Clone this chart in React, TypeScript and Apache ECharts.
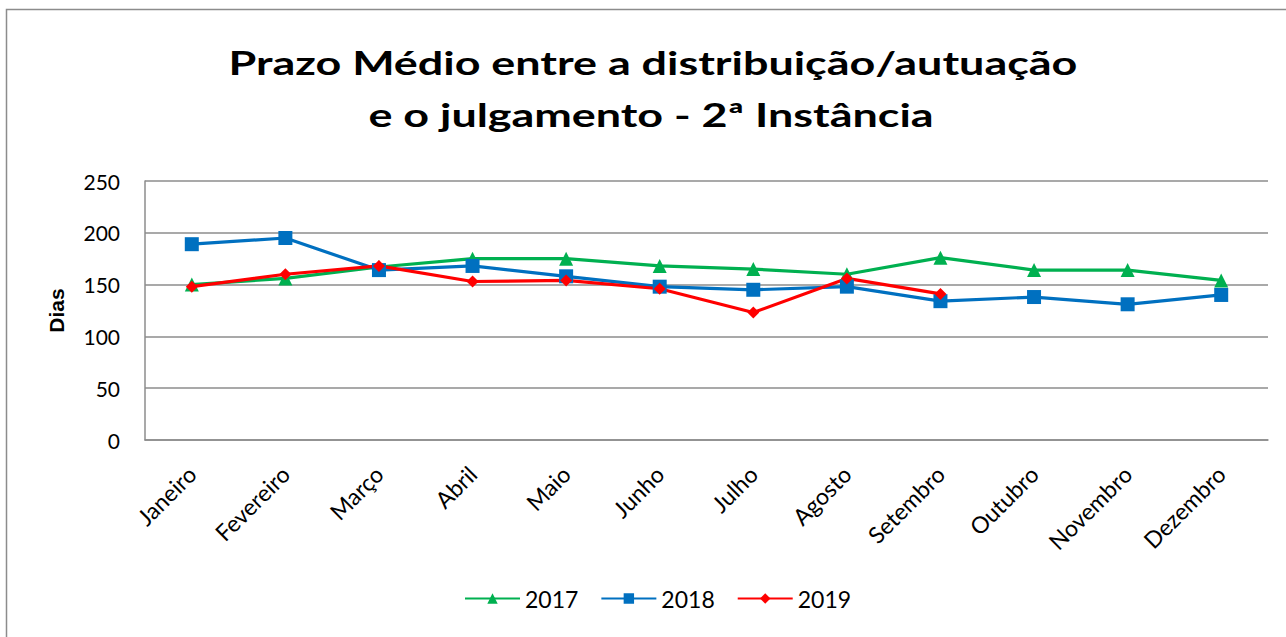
import React, { useEffect, useRef } from "react";
import * as echarts from "echarts";

const months = ["Janeiro", "Fevereiro", "Março", "Abril", "Maio", "Junho", "Julho", "Agosto", "Setembro", "Outubro", "Novembro", "Dezembro"];
const s2017 = [150, 156, 167, 175, 175, 168, 165, 160, 176, 164, 164, 154];
const s2018 = [189, 195, 164, 168, 158, 148, 145, 148, 134, 138, 131, 140];
const s2019 = [148, 160, 168, 153, 154, 146, 123, 156, 141, null, null, null];
const yTicks = { min: 0, max: 250, interval: 50 };
const titleLines = ["Prazo Médio entre a distribuição/autuação", "e o julgamento - 2ª Instância"];
const yName = "Dias";

const FONT = "Lato, 'Open Sans', sans-serif";

export default function App() {
  const ref = useRef<HTMLDivElement>(null);
  useEffect(() => {
    if (!ref.current) return;
    const chart = echarts.init(ref.current, undefined, { renderer: "svg" });
    const mk = (name: string, data: (number | null)[], color: string, symbol: string, size: number) => ({
      name,
      type: "line",
      data,
      symbol,
      symbolSize: size,
      showSymbol: true,
      connectNulls: false,
      lineStyle: { color, width: 3.2 },
      itemStyle: { color },
      emphasis: { disabled: true },
    });
    const titleStyle = (text: string) => ({
      text,
      x: 0,
      y: 0,
      fill: "#000",
      font: `bold 33px ${FONT}`,
      textAlign: "center",
      textVerticalAlign: "middle",
    });
    chart.setOption({
      animation: false,
      backgroundColor: "#ffffff",
      textStyle: { fontFamily: FONT },
      graphic: [
        {
          type: "rect",
          shape: { x: 6.5, y: 9.5, width: 1400, height: 700 },
          style: { fill: "none", stroke: "#8c8c8c", lineWidth: 1.5 },
          silent: true,
        },
        {
          type: "text",
          x: 653,
          y: 62,
          scaleX: 1.36,
          style: titleStyle(titleLines[0]),
          silent: true,
        },
        {
          type: "text",
          x: 651,
          y: 114,
          scaleX: 1.36,
          style: titleStyle(titleLines[1]),
          silent: true,
        },
      ],
      legend: {
        bottom: 22,
        left: 459,
        itemWidth: 55,
        itemHeight: 13,
        itemGap: 22,
        textStyle: { fontFamily: FONT, fontSize: 23, color: "#000" },
        data: ["2017", "2018", "2019"],
      },
      grid: { left: 145, right: 18, top: 181, bottom: 197, containLabel: false },
      xAxis: {
        type: "category",
        data: months,
        boundaryGap: true,
        axisLine: { show: true, lineStyle: { color: "#8c8c8c", width: 1.5 } },
        axisTick: { show: false },
        axisLabel: { rotate: 45, margin: 30, fontFamily: FONT, fontSize: 23, color: "#000", interval: 0 },
      },
      yAxis: {
        type: "value",
        min: yTicks.min,
        max: yTicks.max,
        interval: yTicks.interval,
        name: yName,
        nameLocation: "middle",
        nameGap: 78,
        nameRotate: 90,
        nameTextStyle: { fontFamily: "'Liberation Sans', Arial, sans-serif", fontSize: 21, fontWeight: "bold", color: "#000" },
        axisLine: { show: true, lineStyle: { color: "#8c8c8c", width: 1.5 } },
        axisTick: { show: false },
        axisLabel: { margin: 25, fontFamily: FONT, fontSize: 21, color: "#000" },
        splitLine: { show: true, lineStyle: { color: "#8c8c8c", width: 1.5 } },
      },
      series: [
        mk("2017", s2017, "#00B050", "triangle", 14),
        mk("2018", s2018, "#0070C0", "rect", 14),
        mk("2019", s2019, "#FF0000", "diamond", 12),
      ],
    });
    return () => chart.dispose();
  }, []);
  return <div ref={ref} style={{ position: "fixed", left: 0, top: 0, width: 1286, height: 637 }} />;
}
